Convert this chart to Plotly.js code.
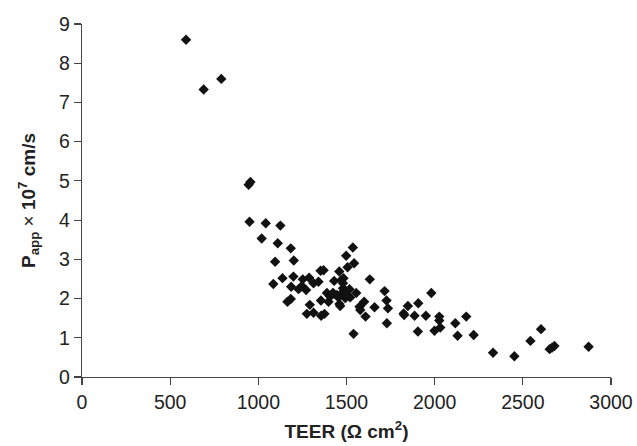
<!DOCTYPE html>
<html>
<head>
<meta charset="utf-8">
<script src="https://cdn.plot.ly/plotly-3.0.1.min.js"></script>
<style>html,body{margin:0;padding:0;background:#fff;}#chart{width:637px;height:446px;}</style>
</head>
<body>
<div id="chart"></div>
<script>
// TEER (Ω cm²) values
const teer = [590, 690, 790, 945, 955, 950, 1042, 1125, 1019, 1110, 1184, 1095, 1201, 1085, 1137, 1199, 1186, 1252, 1288, 1228, 1247, 1271, 1313, 1341, 1353, 1370, 1165, 1184, 1292, 1275, 1313, 1356, 1375, 1355, 1389, 1407, 1430, 1459, 1423, 1446, 1398, 1460, 1470, 1483, 1480, 1498, 1474, 1517, 1493, 1521, 1555, 1464, 1498, 1536, 1506, 1543, 1632, 1540, 1574, 1578, 1600, 1608, 1659, 1716, 1727, 1735, 1729, 1824, 1827, 1848, 1886, 1907, 1905, 1950, 1981, 2026, 2026, 2032, 1999, 2117, 2130, 2179, 2221, 2331, 2452, 2543, 2603, 2652, 2666, 2679, 2873, 1454, 1426, 1480, 1498];
// Papp x 10^7 cm/s values
const papp = [8.6, 7.33, 7.6, 4.9, 4.97, 3.96, 3.92, 3.86, 3.53, 3.41, 3.28, 2.94, 2.97, 2.37, 2.52, 2.56, 2.30, 2.49, 2.53, 2.24, 2.32, 2.22, 2.39, 2.43, 2.71, 2.72, 1.92, 1.99, 1.84, 1.61, 1.64, 1.56, 1.61, 1.95, 2.14, 2.05, 2.45, 2.69, 2.14, 2.09, 1.92, 1.86, 2.47, 2.52, 2.26, 2.18, 2.14, 2.24, 2.01, 2.03, 2.14, 1.81, 3.09, 3.30, 2.80, 2.90, 2.49, 1.10, 1.79, 1.71, 1.92, 1.54, 1.78, 2.19, 1.95, 1.75, 1.37, 1.62, 1.58, 1.81, 1.56, 1.88, 1.16, 1.56, 2.14, 1.54, 1.44, 1.26, 1.18, 1.37, 1.05, 1.54, 1.07, 0.62, 0.53, 0.92, 1.22, 0.71, 0.75, 0.79, 0.77, 2.03, 2.13, 2.39, 2.09];
const xTicks = [0, 500, 1000, 1500, 2000, 2500, 3000];
const yTicks = [0, 1, 2, 3, 4, 5, 6, 7, 8, 9];

const font = "Liberation Sans, Arial, Helvetica, sans-serif";
const axisCommon = {
  showgrid: false, zeroline: false, showline: true,
  linecolor: '#444', linewidth: 1.2,
  ticks: 'outside', ticklen: 7, tickwidth: 1.2, tickcolor: '#444',
  tickfont: {family: font, size: 19.5, color: '#222'}
};
Plotly.newPlot('chart', [{
  x: teer, y: papp, type: 'scatter', mode: 'markers',
  marker: {symbol: 'diamond', size: 8, color: '#111'},
  hoverinfo: 'none'
}], {
  width: 637, height: 446,
  margin: {l: 82, r: 26, t: 24, b: 69},
  paper_bgcolor: '#fff', plot_bgcolor: '#fff',
  showlegend: false,
  xaxis: Object.assign({}, axisCommon, {
    range: [0, 3000], tickvals: xTicks, ticktext: xTicks.map(String),
    title: {text: '<b>TEER (Ω cm<sup>2</sup>)</b>', font: {family: font, size: 19, color: '#222'}, standoff: 13}
  }),
  yaxis: Object.assign({}, axisCommon, {
    range: [0, 9], tickvals: yTicks, ticktext: yTicks.map(String),
    title: {text: '<b>P<sub>app</sub></b> × <b>10<sup>7</sup> cm/s</b>', font: {family: font, size: 19, color: '#222'}, standoff: 18}
  })
}, {staticPlot: true});
</script>
</body>
</html>
